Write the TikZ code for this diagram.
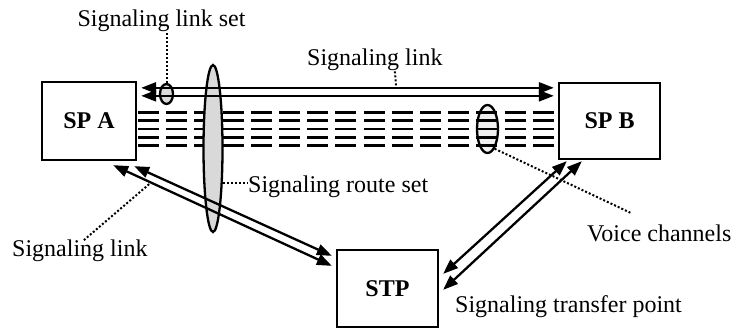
\documentclass[tikz,border=0pt]{standalone}
\usepackage{fontspec}
\setmainfont{Liberation Serif}
\usetikzlibrary{arrows.meta,shapes.geometric,calc}
\begin{document}
\begin{tikzpicture}[x=1pt,y=-1pt,
  box/.style={draw,line width=2.3pt,inner sep=0pt,font=\fontsize{24}{28}\selectfont\bfseries},
  lbl/.style={font=\fontsize{24}{28}\selectfont,inner sep=0pt},
  link/.style={line width=2.3pt,{Triangle[length=15pt,width=11pt]}-{Triangle[length=15pt,width=11pt]}},
  dots/.style={line width=2pt,dash pattern=on 2pt off 2pt},
  oval/.style={draw,ellipse,line width=2.3pt,inner sep=0pt},
  voicech/.style={line width=2.5pt,dash pattern=on 21pt off 7.2pt}]
\useasboundingbox (0,0) rectangle (744,328);
% boxes
\node[box,minimum width=94pt,minimum height=78pt] (spa) at (89,121) {SP A};
\node[box,minimum width=101pt,minimum height=76pt] (spb) at (609.5,121) {SP B};
\node[box,minimum width=101pt,minimum height=77pt] (stp) at (387.5,288.5) {STP};
% voice channel ellipse fill, then the voice channels
\fill[gray!12] (487.5,129) ellipse [x radius=10.5, y radius=24];
\foreach \yy in {112.3,120.7,129,137.3,145.7}
  \draw[voicech] (138,\yy) -- (554,\yy);
% ellipses
\node[oval,fill=gray!30,minimum width=19pt,minimum height=167pt] (route) at (213,148.5) {};
\node[oval,minimum width=21pt,minimum height=48pt] (voice) at (487.5,129) {};
\node[oval,fill=gray!30,minimum width=13pt,minimum height=20pt] (lset) at (166.5,94) {};
% signaling links
\draw[link] ($(spa.north east)+(4,7)$) -- ($(spb.north west)+(-4,6)$);
\draw[link] ($(spa.north east)+(4,15)$) -- ($(spb.north west)+(-4,14)$);
\draw[link] ($(spa.south east)+(-24,4)$) -- ($(stp.north west)+(-4,17)$);
\draw[link] ($(spa.south east)+(-3,5)$) -- ($(stp.north west)+(-4,7)$);
\draw[link] ($(stp.north east)+(4,25)$) -- ($(spb.south west)+(9,1)$);
\draw[link] ($(stp.north east)+(4,41)$) -- ($(spb.south west)+(24,1)$);
% labels
\node[lbl,anchor=base] (lsetlbl) at (161.5,27) {Signaling link set};
\node[lbl,anchor=base west] (toplbl) at (307,66) {Signaling link};
\node[lbl,anchor=base west] (routelbl) at (248,193) {Signaling route set};
\node[lbl,anchor=base west] (bllbl) at (12,257) {Signaling link};
\node[lbl,anchor=base west] (voicelbl) at (587,242) {Voice channels};
\node[lbl,anchor=base west] (stplbl) at (455,313) {Signaling transfer point};
% dotted pointers
\draw[dots] (lset.north) -- (lset.north |- lsetlbl.south);
\draw[dots] ($(toplbl.south)+(20,0)$) -- ($(spa.north east)+(259,6)$);
\draw[dots] (route.-74) -- (route.-74 -| routelbl.west);
\draw[dots] ($(spa.south east)+(12,23)$) -- ($(bllbl.north)+(4,0)$);
\draw[dots] (voice.-70) -- ($(voicelbl.north)+(-28,-12)$);
\end{tikzpicture}
\end{document}
